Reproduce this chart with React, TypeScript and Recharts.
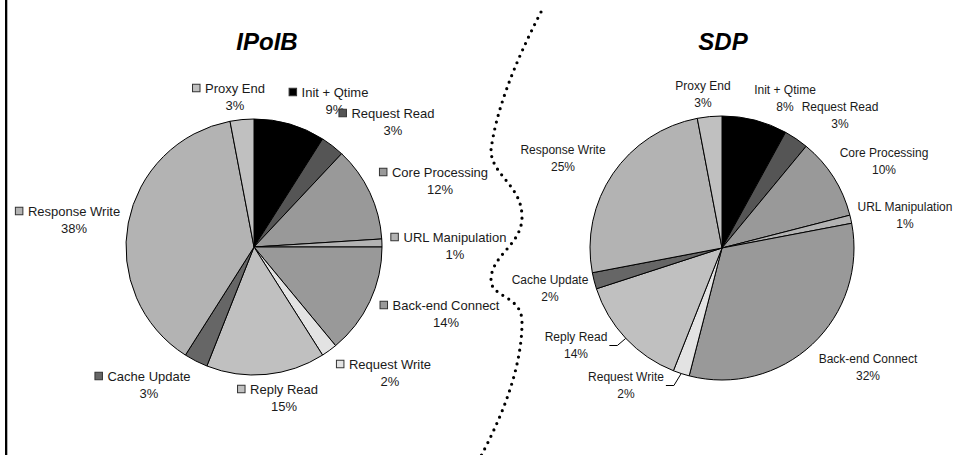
import React from 'react';
import { PieChart, Pie, Cell } from 'recharts';

// Processing stages, clockwise from 12 o'clock
const categories = [
  'Init + Qtime',
  'Request Read',
  'Core Processing',
  'URL Manipulation',
  'Back-end Connect',
  'Request Write',
  'Reply Read',
  'Cache Update',
  'Response Write',
  'Proxy End',
];

// Share of time per stage (%)
const ipoibShare = [9, 3, 12, 1, 14, 2, 15, 3, 38, 3];
const sdpShare = [8, 3, 10, 1, 32, 2, 14, 2, 25, 3];

const chartTitles = ['IPoIB', 'SDP'];

// Greyscale fill per stage
const sliceColors = [
  '#000000',
  '#555555',
  '#999999',
  '#b3b3b3',
  '#999999',
  '#e3e3e3',
  '#c0c0c0',
  '#666666',
  '#b3b3b3',
  '#c0c0c0',
];

// Label placement: offset of the label's name line from the pie centre
const ipoibLabelOffsets: [number, number][] = [
  [81, -155],
  [139, -134],
  [186, -75],
  [201, -10],
  [192, 58],
  [136, 117],
  [30, 142],
  [-105, 129],
  [-180, -36],
  [-19, -159],
];
const sdpLabelOffsets: [number, number][] = [
  [63, -158],
  [118, -141],
  [162, -95],
  [183, -41],
  [146, 111],
  [-96, 129],
  [-146, 89],
  [-172, 32],
  [-159, -98],
  [-19, -162],
];
// SDP labels that get a leader line back to their slice
const sdpLeaderStages = ['Request Write', 'Reply Read'];

const ipoibData = categories.map((name, i) => ({ name, value: ipoibShare[i] }));
const sdpData = categories.map((name, i) => ({ name, value: sdpShare[i] }));

const FONT = '"Liberation Sans", Arial, Helvetica, sans-serif';
const TEXT_COLOR = '#1a1a1a';
const RAD = Math.PI / 180;

let measureCtx: CanvasRenderingContext2D | null = null;
function textWidth(s: string, size: number): number {
  if (!measureCtx) {
    measureCtx = document.createElement('canvas').getContext('2d');
  }
  if (!measureCtx) return s.length * size * 0.55;
  measureCtx.font = `${size}px ${FONT}`;
  return measureCtx.measureText(s).width;
}

function makeLabel(
  offsets: [number, number][],
  fontSize: number,
  withKey: boolean,
  leaders: string[]
) {
  return (props: any) => {
    const { cx, cy, midAngle, outerRadius, index, value, name } = props;
    const [dx, dy] = offsets[index];
    const x = cx + dx;
    const y = cy + dy;
    const lineGap = 17;
    const w = textWidth(String(name), fontSize);
    const parts: React.ReactNode[] = [];
    if (withKey) {
      const s = 7.5;
      parts.push(
        <rect
          key="k"
          x={x - w / 2 - 5 - s}
          y={y - s / 2}
          width={s}
          height={s}
          fill={sliceColors[index]}
          stroke="#333"
          strokeWidth={1}
        />
      );
    }
    if (leaders.includes(String(name))) {
      const ex = cx + outerRadius * Math.cos(-midAngle * RAD);
      const ey = cy + outerRadius * Math.sin(-midAngle * RAD);
      const by = y + lineGap / 2;
      const right = x + w / 2;
      parts.push(
        <polyline
          key="l"
          points={`${ex},${ey} ${right + 10},${by} ${right + 2},${by}`}
          fill="none"
          stroke="#000"
          strokeWidth={1}
        />
      );
    }
    parts.push(
      <text
        key="n"
        x={x}
        y={y}
        textAnchor="middle"
        dominantBaseline="central"
        fontFamily={FONT}
        fontSize={fontSize}
        fill={TEXT_COLOR}
      >
        {name}
      </text>
    );
    parts.push(
      <text
        key="p"
        x={x}
        y={y + lineGap}
        textAnchor="middle"
        dominantBaseline="central"
        fontFamily={FONT}
        fontSize={fontSize}
        fill={TEXT_COLOR}
      >
        {`${value}%`}
      </text>
    );
    return <g>{parts}</g>;
  };
}

export default function App() {
  const W = 956;
  const H = 455;
  return (
    <div style={{ position: 'absolute', left: 0, top: 0, width: W, height: H, background: '#fff' }}>
      <PieChart width={W} height={H} margin={{ top: 0, right: 0, bottom: 0, left: 0 }}>
        <Pie
          data={ipoibData}
          dataKey="value"
          nameKey="name"
          cx={254}
          cy={247}
          outerRadius={128}
          startAngle={90}
          endAngle={-270}
          stroke="#000"
          strokeWidth={1}
          isAnimationActive={false}
          labelLine={false}
          label={makeLabel(ipoibLabelOffsets, 13, true, [])}
        >
          {ipoibData.map((d, i) => (
            <Cell key={d.name} fill={sliceColors[i]} />
          ))}
        </Pie>
        <Pie
          data={sdpData}
          dataKey="value"
          nameKey="name"
          cx={722}
          cy={248}
          outerRadius={132}
          startAngle={90}
          endAngle={-270}
          stroke="#000"
          strokeWidth={1}
          isAnimationActive={false}
          labelLine={false}
          label={makeLabel(sdpLabelOffsets, 12, false, sdpLeaderStages)}
        >
          {sdpData.map((d, i) => (
            <Cell key={d.name} fill={sliceColors[i]} />
          ))}
        </Pie>
      </PieChart>
      <svg
        width={W}
        height={H}
        style={{ position: 'absolute', left: 0, top: 0, pointerEvents: 'none' }}
      >
        <rect x={5} y={0} width={2.3} height={H} fill="#000" />
        <text
          x={267}
          y={50}
          textAnchor="middle"
          fontFamily={FONT}
          fontSize={24}
          fontWeight="bold"
          fontStyle="italic"
          fill="#000"
        >
          {chartTitles[0]}
        </text>
        <text
          x={723}
          y={50}
          textAnchor="middle"
          fontFamily={FONT}
          fontSize={24}
          fontWeight="bold"
          fontStyle="italic"
          fill="#000"
        >
          {chartTitles[1]}
        </text>
        {/* dotted divider between the two pies */}
        <path
          d="M541,12 Q498,95 491,150 C491,175 522,185 522,217 C522,245 491,255 491,280 C491,298 522,295 522,322 C522,370 500,420 481,456"
          fill="none"
          stroke="#000"
          strokeWidth={3.2}
          strokeLinecap="round"
          strokeDasharray="0 7"
        />
      </svg>
    </div>
  );
}
